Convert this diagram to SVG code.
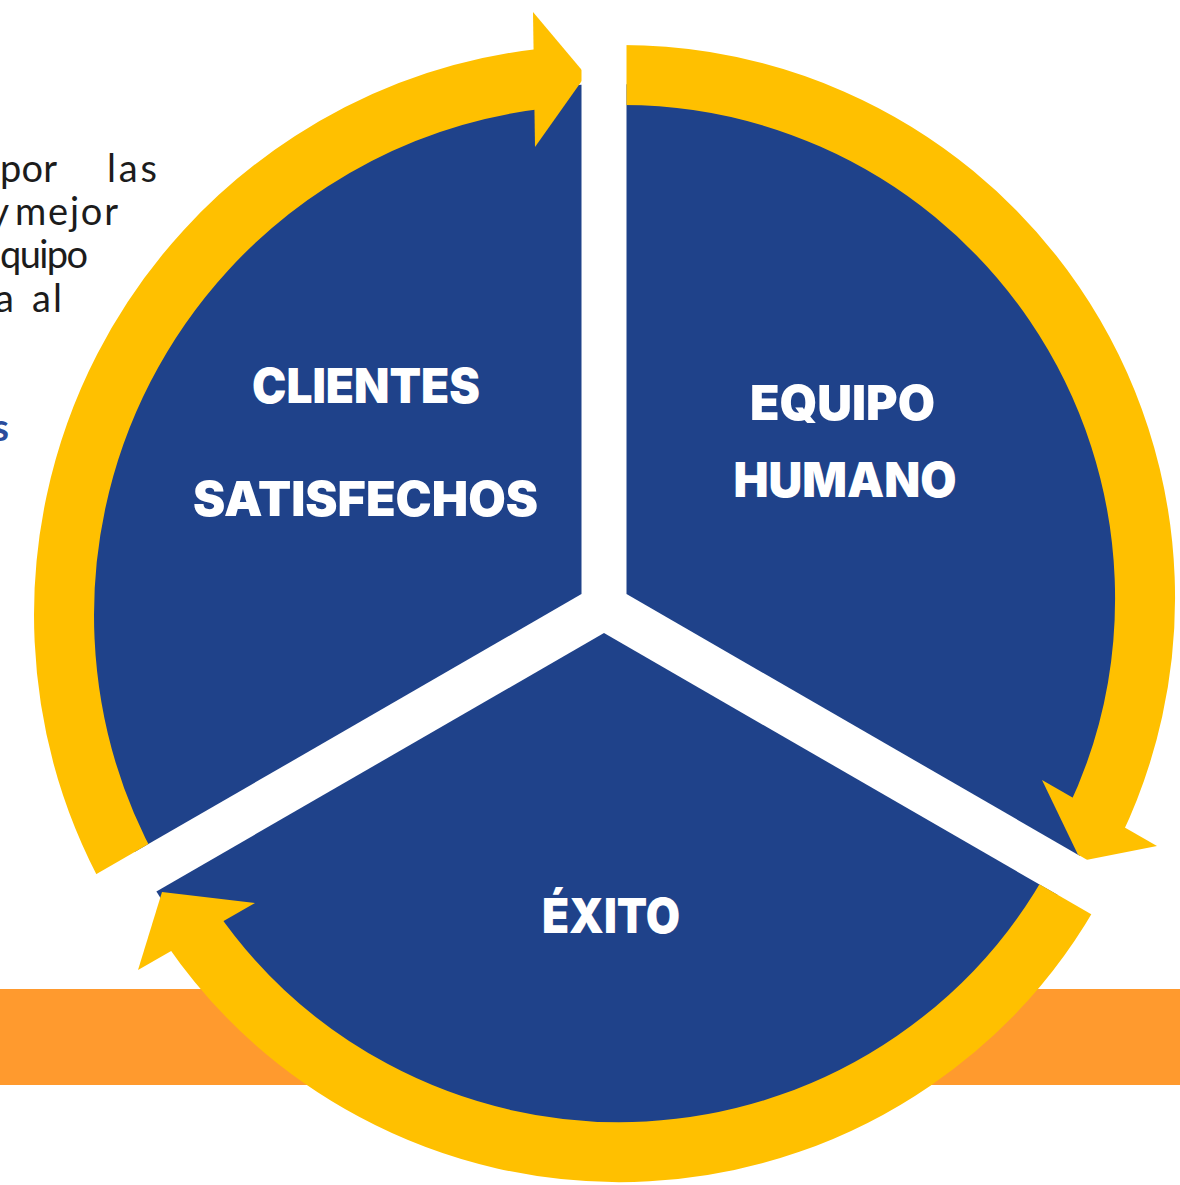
<svg xmlns="http://www.w3.org/2000/svg" width="1180" height="1185" viewBox="0 0 1180 1185">
<defs>
<style>
.body{font-family:Lato,'Open Sans',sans-serif;font-size:38px;font-weight:400;fill:#1c1c1c}
.accent{font-family:Lato,'Open Sans',sans-serif;font-size:38px;font-weight:700;fill:#2a4c9c}
.label{font-family:Inter,'Open Sans',sans-serif;font-weight:900;font-size:48px;fill:#ffffff;text-anchor:middle}
.sector{fill:#1f428a}
.ring{fill:none;stroke:#ffc000;stroke-width:60;stroke-linecap:butt}
.head{fill:#ffc000}
</style>
<mask id="gap" maskUnits="userSpaceOnUse" x="0" y="0" width="1180" height="1185">
<rect x="0" y="0" width="1180" height="1185" fill="#ffffff"/>
<g stroke="#000000" stroke-width="45" stroke-linecap="butt">
<line x1="604" y1="607" x2="604" y2="-20"/>
<line x1="604" y1="607" x2="67" y2="917"/>
<line x1="604" y1="607" x2="1141" y2="917"/>
</g>
</mask>
</defs>
<rect x="0" y="0" width="1180" height="1185" fill="#ffffff"/>
<g id="intro-text">
<text class="body" x="0" y="182" textLength="57">por</text>
<text class="body" x="107" y="182" textLength="50">las</text>
<text class="body" x="9" y="225" text-anchor="end">y</text>
<text class="body" x="15" y="225" textLength="103">mejor</text>
<text class="body" x="0" y="268" textLength="88">quipo</text>
<text class="body" x="14" y="312" text-anchor="end">a</text>
<text class="body" x="32" y="312" textLength="30">al</text>
<text class="accent" x="9" y="441" text-anchor="end">s</text>
</g>
<rect id="orange-band" x="0" y="989" width="1180" height="96" fill="#ff9a2e"/>
<g id="node-clientes">
<path class="sector" d="M581.5,594 L581.5,84.7 A530,530 0 0 0 134.5,852.1 Z"/>
<text class="label" x="366" y="403" textLength="228" lengthAdjust="spacingAndGlyphs">CLIENTES</text>
<text class="label" x="365.5" y="516" textLength="345" lengthAdjust="spacingAndGlyphs">SATISFECHOS</text>
</g>
<g id="node-equipo">
<path class="sector" d="M626.5,594 L626.5,84.3 A530,530 0 0 1 1079.7,855.7 Z"/>
<text class="label" x="842.5" y="420" font-size="46" textLength="185" lengthAdjust="spacingAndGlyphs">EQUIPO</text>
<text class="label" x="845" y="497" textLength="223" lengthAdjust="spacingAndGlyphs">HUMANO</text>
</g>
<g id="node-exito">
<path class="sector" d="M604,633 L1057.4,894.8 A530,530 0 0 1 156.4,891.4 Z"/>
<text class="label" x="611" y="933" font-size="42" textLength="138" lengthAdjust="spacingAndGlyphs">ÉXITO</text>
</g>
<g id="connectors" mask="url(#gap)">
<path class="ring" d="M131.7,876.8 A540,540 0 0 1 542.9,78.5"/>
<polygon class="head" points="533,12 586,75 535,147"/>
<path class="ring" d="M585.5,76.3 A523,523 0 0 1 1094.1,823.2"/>
<polygon class="head" points="1042,780 1081,861 1157,846"/>
<path class="ring" d="M1077.4,878.1 A520,520 0 0 1 190.7,926.7"/>
<polygon class="head" points="255,903 162,892 138,970"/>
</g>
</svg>
